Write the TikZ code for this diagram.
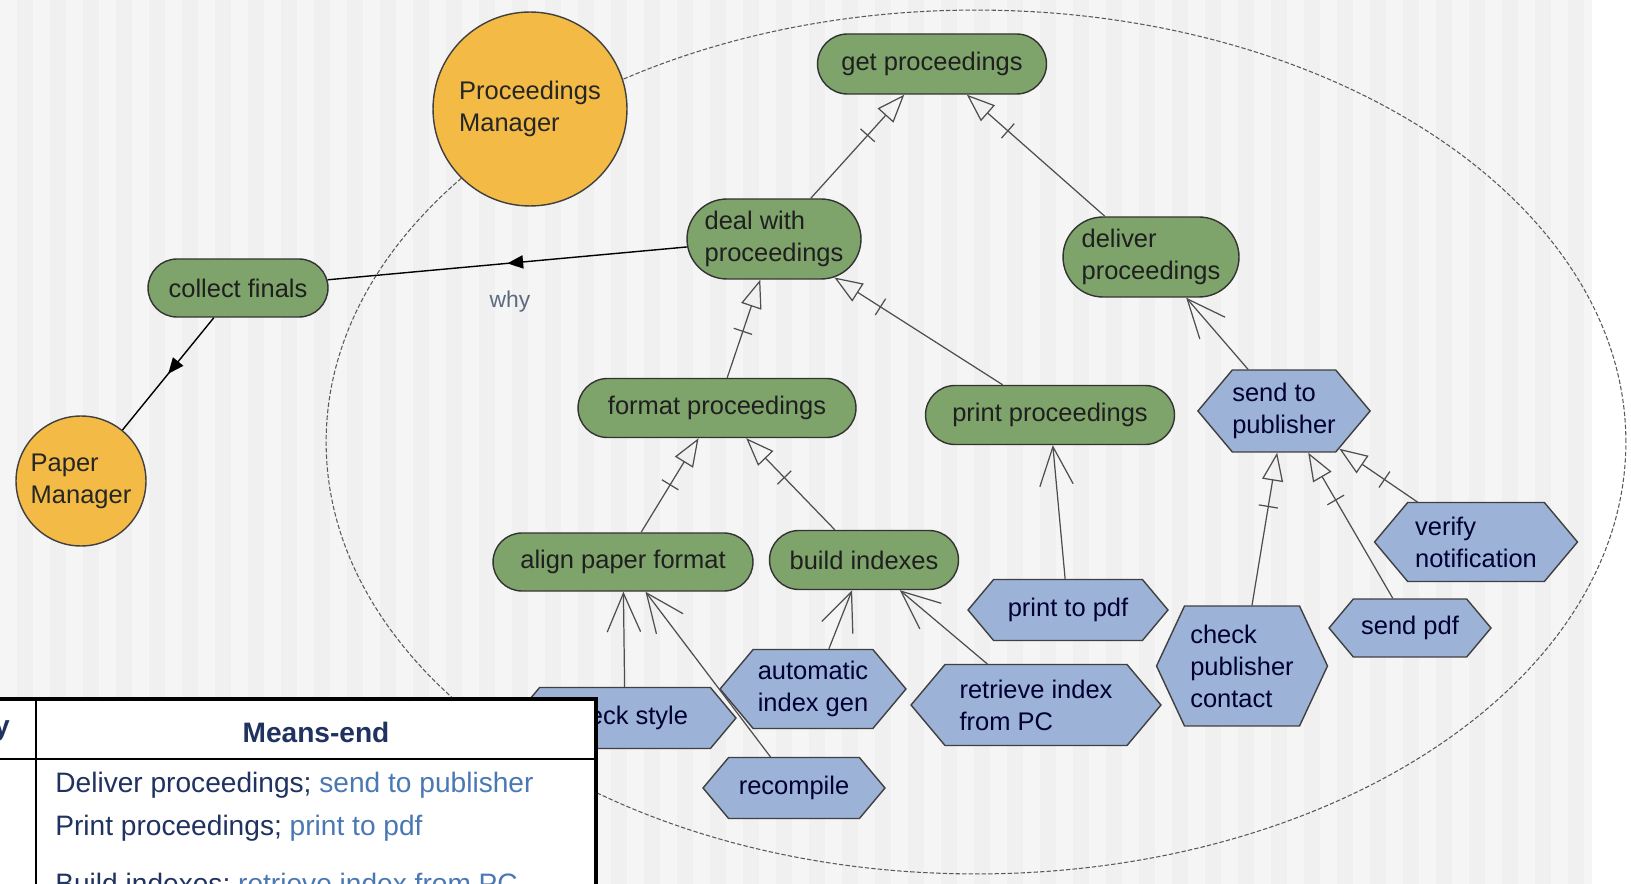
\documentclass[tikz,border=0pt]{standalone}
\usepackage{fontspec}
\setmainfont{Liberation Sans}
\usetikzlibrary{arrows.meta, shapes.misc, shapes.symbols, decorations.markings}

\definecolor{goalgreen}{HTML}{7EA36B}
\definecolor{taskblue}{HTML}{9CB2D6}
\definecolor{actororange}{HTML}{F3BB45}
\definecolor{bgbase}{HTML}{F5F5F5}
\definecolor{bgstripe}{HTML}{F0F0F0}
\definecolor{linegray}{HTML}{4E4E4E}
\definecolor{navytext}{HTML}{1F3260}
\definecolor{linktext}{HTML}{4A78B5}
\definecolor{whytext}{HTML}{5C6A80}

\newcommand{\diagfont}{\fontsize{14.5}{18.2}\selectfont}
\newcommand{\tablefont}{\fontsize{16}{19}\selectfont}

\tikzset{
  actor/.style={circle, draw=black!75, fill=actororange, line width=0.8pt,
    inner sep=0pt, font=\diagfont, align=left, text=black!85},
  goal/.style={rounded rectangle, draw=black!80, fill=goalgreen, line width=0.8pt,
    inner sep=0pt, font=\diagfont, align=left, text=black!88},
  task/.style={signal, signal to=east and west, signal pointer angle=100,
    draw=black!75, fill=taskblue, line width=0.8pt,
    inner sep=0pt, font=\diagfont, align=left, text=black!80!blue},
  refines/.style={linegray, line width=0.7pt,
    -{Triangle[open, length=16pt, width=12pt]},
    postaction={decorate},
    decoration={markings, mark=at position -31pt with
      {\draw[-, linegray, line width=0.7pt] (0,-5.5pt) -- (0,5.5pt);}}},
  contrib/.style={linegray, line width=0.7pt,
    -{Straight Barb[length=22pt, width=19pt]}},
  depends/.style={black, line width=0.8pt,
    postaction={decorate},
    decoration={markings, mark=at position 0.5 with
      {\arrow{Triangle[length=9pt, width=7.5pt]}}}},
  whylabel/.style={font=\fontsize{13}{15}\selectfont, text=whytext},
  rowtext/.style={font=\tablefont, text=navytext, anchor=west, inner sep=0pt},
}

\begin{document}
\begin{tikzpicture}[x=0.02cm, y=-0.02cm]
  \useasboundingbox (0,0) rectangle (1631,884);
  % striped background
  \fill[bgbase] (0,0) rectangle (1592,884);
  \foreach \sx in {0,33,...,1584}
    \fill[bgstripe] (\sx+17,0) rectangle (\sx+33,884);
  \fill[white] (1592,0) rectangle (1631,884);

  % actor boundary
  \draw[black!65, line width=0.6pt, dash pattern=on 2.5pt off 1.2pt]
    (976,442) ellipse [x radius=13cm, y radius=8.64cm];

  % actors
  \node[actor, minimum size=3.88cm] (procmgr) at (530,109) {Proceedings\\Manager};
  \node[actor, minimum size=2.6cm] (papermgr) at (81,481) {Paper\\Manager};

  % goals
  \node[goal, minimum width=4.58cm, minimum height=1.2cm] (getproc) at (932,64) {get proceedings};
  \node[goal, minimum width=3.48cm, minimum height=1.6cm] (dealproc) at (774,239) {deal with\\proceedings};
  \node[goal, minimum width=3.52cm, minimum height=1.6cm] (delivproc) at (1151,257) {deliver\\proceedings};
  \node[goal, minimum width=3.6cm, minimum height=1.16cm] (collect) at (238,288) {collect finals};
  \node[goal, minimum width=5.56cm, minimum height=1.18cm] (formatproc) at (717,408) {format proceedings};
  \node[goal, minimum width=4.98cm, minimum height=1.18cm] (printproc) at (1050,415) {print proceedings};
  \node[goal, minimum width=5.2cm, minimum height=1.16cm] (alignfmt) at (623,562) {align paper format};
  \node[goal, minimum width=3.78cm, minimum height=1.18cm] (buildidx) at (864,560) {build indexes};

  % tasks
  \node[task, minimum width=3.44cm, minimum height=1.64cm] (sendpub) at (1284,411) {send to\\publisher};
  \node[task, minimum width=4.06cm, minimum height=1.58cm] (verify) at (1476,542) {verify\\notification};
  \node[task, minimum width=3.24cm, minimum height=1.16cm] (sendpdf) at (1410,628) {send pdf};
  \node[task, minimum width=3.42cm, minimum height=2.4cm, signal pointer angle=130] (checkpub) at (1242,666) {check\\publisher\\contact};
  \node[task, minimum width=4cm, minimum height=1.22cm] (printpdf) at (1068,610) {print to pdf};
  \node[task, minimum width=5cm, minimum height=1.62cm] (retrieve) at (1036,705) {retrieve index\\from PC};
  \node[task, minimum width=3.72cm, minimum height=1.58cm] (autogen) at (813,689) {automatic\\index gen};
  \node[task, minimum width=4.44cm, minimum height=1.22cm] (checkstyle) at (625,718) {check style};
  \node[task, minimum width=3.64cm, minimum height=1.22cm] (recompile) at (794,788) {recompile};

  % refinements
  \draw[refines] (dealproc) -- (getproc);
  \draw[refines] (delivproc) -- (getproc);
  \draw[refines] (formatproc) -- (dealproc);
  \draw[refines] (printproc) -- (dealproc);
  \draw[refines] (alignfmt) -- (formatproc);
  \draw[refines] (buildidx) -- (formatproc);
  \draw[refines] (checkpub) -- (sendpub);
  \draw[refines] (sendpdf) -- (sendpub);
  \draw[refines] (verify) -- (sendpub);

  % contributions
  \draw[contrib] (checkstyle) -- (alignfmt);
  \draw[contrib] (recompile) -- (alignfmt);
  \draw[contrib] (autogen) -- (buildidx);
  \draw[contrib] (retrieve) -- (buildidx);
  \draw[contrib] (printpdf) -- (printproc);
  \draw[contrib] (sendpub) -- (delivproc);

  % dependencies
  \draw[depends] (dealproc) -- (collect);
  \draw[depends] (collect) -- (papermgr);
  \node[whylabel] (why) at (510,302) {why};

  % table overlay
  \fill[white] (-10,699) rectangle (596,900);
  \draw[black, line width=1.1pt] (36,699) -- (36,900);
  \draw[black, line width=1.1pt] (-10,759) -- (596,759);
  \draw[black, line width=1.8pt] (-10,699) rectangle (596,900);
  \node[font=\tablefont\bfseries, text=navytext, anchor=east, inner sep=0pt] (colleft) at (10,731) {y};
  \node[font=\tablefont\bfseries, text=navytext] (colhead) at (316,732) {Means-end};
  \node[rowtext] (rowdeliv) at (55,785) {Deliver proceedings; \textcolor{linktext}{send to publisher}};
  \node[rowtext] (rowprint) at (55,828) {Print proceedings; \textcolor{linktext}{print to pdf}};
  \node[rowtext] (rowbuild) at (55,885) {Build indexes; \textcolor{linktext}{retrieve index from PC}};
\end{tikzpicture}
\end{document}
